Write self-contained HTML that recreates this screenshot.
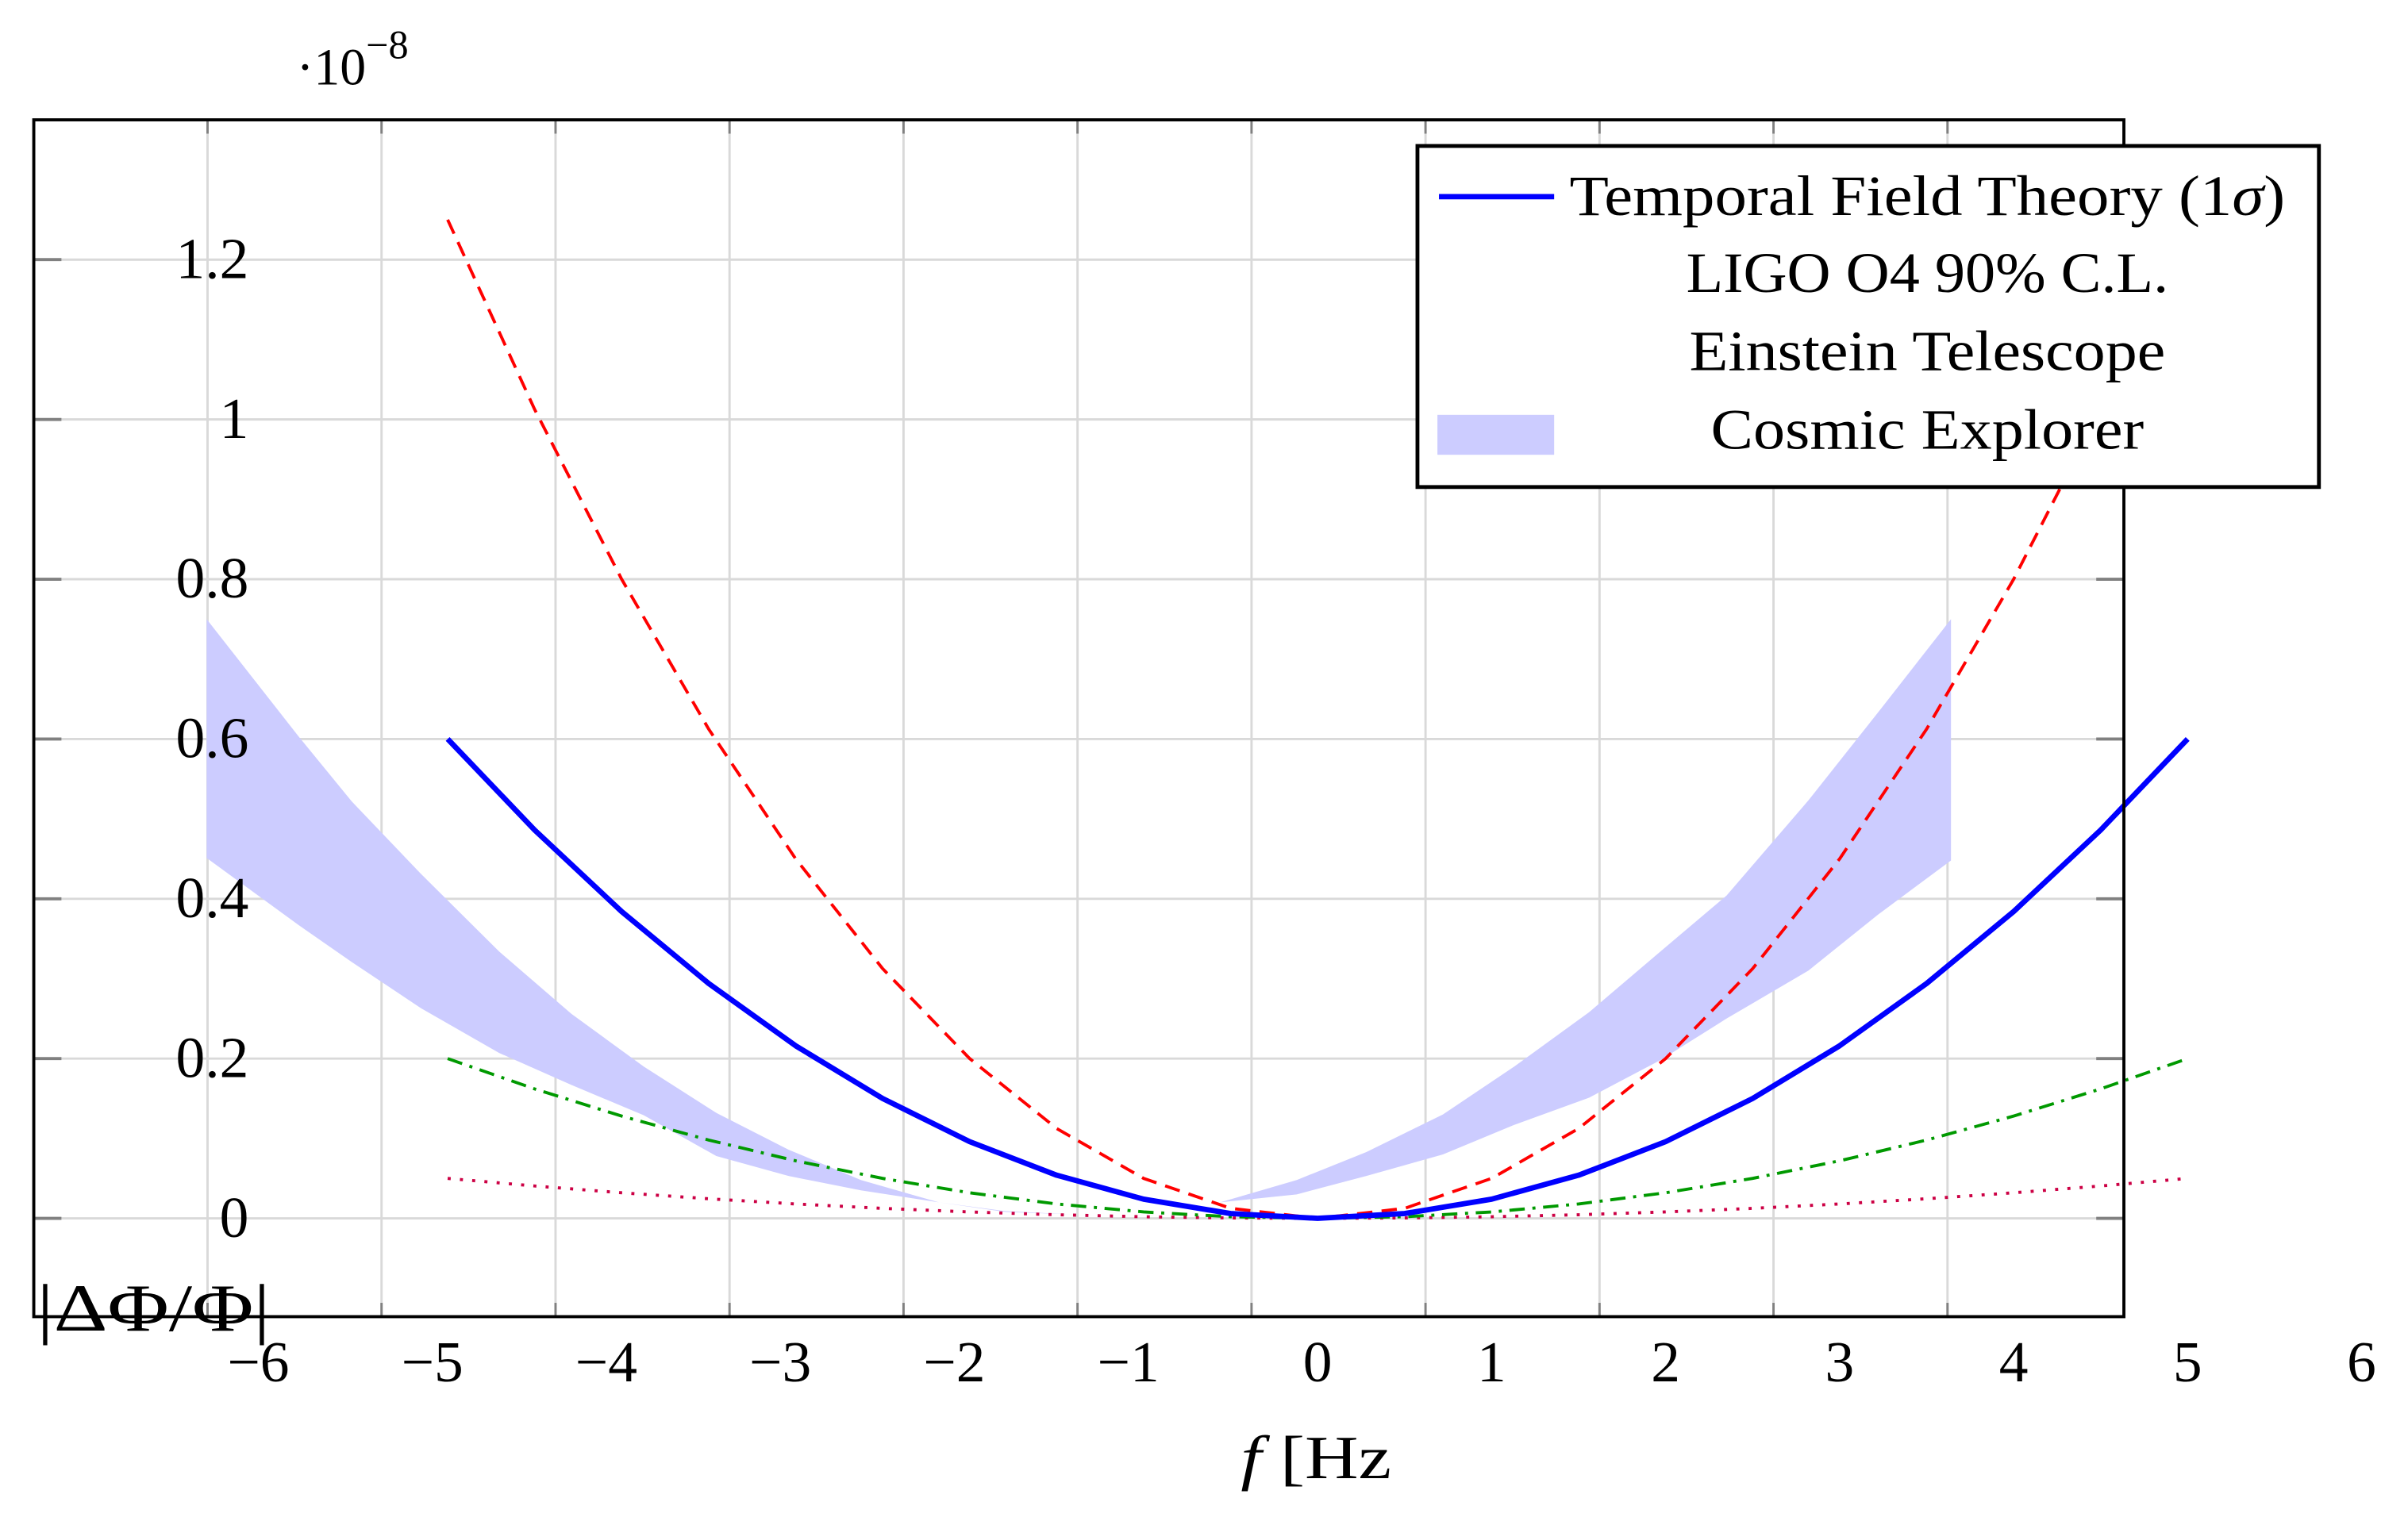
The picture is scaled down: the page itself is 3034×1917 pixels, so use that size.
<!DOCTYPE html>
<html><head><meta charset="utf-8"><style>
html,body{margin:0;padding:0;background:#fff;}
svg{display:block;}
text{font-family:"Liberation Serif",serif;fill:#000;}
</style></head><body>
<svg id="chart" width="3034" height="1917" viewBox="0 0 1568 990" preserveAspectRatio="none" xmlns="http://www.w3.org/2000/svg">
<g id="grid"></g>
<g id="bands"></g>
<g id="series"></g>
<rect x="22" y="78" width="1361" height="779" fill="none" stroke="#000" stroke-width="2"/>
<g id="ticks"></g>
<text x="193" y="55" font-size="34">·10<tspan font-size="26" dy="-17">−8</tspan></text>
<text x="24" y="866" font-size="44" textLength="152" lengthAdjust="spacingAndGlyphs">|ΔΦ/Φ|</text>
<text x="808" y="962" font-size="40" textLength="98" lengthAdjust="spacingAndGlyphs"><tspan font-style="italic">f</tspan> [Hz</text>
<g>
<rect x="923" y="95" width="587" height="222" fill="#fff" stroke="#000" stroke-width="2.5"/>
<line x1="937" y1="128" x2="1012" y2="128" stroke="#0000ff" stroke-width="3.5"/>
<text x="1255" y="140" font-size="37" text-anchor="middle" textLength="466" lengthAdjust="spacingAndGlyphs">Temporal Field Theory (1<tspan font-style="italic">σ</tspan>)</text>
<text x="1255" y="190" font-size="37" text-anchor="middle" textLength="314" lengthAdjust="spacingAndGlyphs">LIGO O4 90% C.L.</text>
<text x="1255" y="241" font-size="37" text-anchor="middle" textLength="310" lengthAdjust="spacingAndGlyphs">Einstein Telescope</text>
<rect x="936" y="270" width="76" height="26" fill="#ccccff"/>
<text x="1255" y="292" font-size="37" text-anchor="middle" textLength="282" lengthAdjust="spacingAndGlyphs">Cosmic Explorer</text>
</g>
</svg>
<script>
const xTicks = [-6,-5,-4,-3,-2,-1,0,1,2,3,4,5,6];
const xTickLabels = ["−6","−5","−4","−3","−2","−1","0","1","2","3","4","5","6"];
const yTicks = [0,0.2,0.4,0.6,0.8,1,1.2];
const yTickLabels = ["0","0.2","0.4","0.6","0.8","1","1.2"];
const xGrid = [-6.38,-5.38,-4.38,-3.38,-2.38,-1.38,-0.38,0.62,1.62,2.62,3.62];
const fVals = [-5,-4.5,-4,-3.5,-3,-2.5,-2,-1.5,-1,-0.5,0,0.5,1,1.5,2,2.5,3,3.5,4,4.5,5];
const tftVals = [0.6,0.486,0.384,0.294,0.216,0.15,0.096,0.054,0.024,0.006,0,0.006,0.024,0.054,0.096,0.15,0.216,0.294,0.384,0.486,0.6];
const ligoVals = [1.25,1.0125,0.8,0.6125,0.45,0.3125,0.2,0.1125,0.05,0.0125,0,0.0125,0.05,0.1125,0.2,0.3125,0.45,0.6125,0.8,1.0125,1.25];
const etVals = [0.2,0.162,0.128,0.098,0.072,0.05,0.032,0.018,0.008,0.002,0,0.002,0.008,0.018,0.032,0.05,0.072,0.098,0.128,0.162,0.2];
const ceVals = [0.05,0.0405,0.032,0.0245,0.018,0.0125,0.008,0.0045,0.002,0.0005,0,0.0005,0.002,0.0045,0.008,0.0125,0.018,0.0245,0.032,0.0405,0.05];
const bandLeftF = [-6.385,-5.856,-5.552,-5.153,-4.704,-4.289,-3.873,-3.456,-3.041,-2.625,-2.177,-1.793,-1.415];
const bandLeftUpper = [0.75,0.603,0.522,0.431,0.334,0.256,0.19,0.132,0.086,0.048,0.02,0.008,0.005];
const bandLeftLower = [0.451,0.367,0.321,0.263,0.207,0.167,0.129,0.078,0.053,0.035,0.02,0.009,0.005];
const bandRightF = [-0.56,-0.12,0.28,0.72,1.13,1.56,1.97,2.35,2.82,3.22,3.64];
const bandRightUpper = [0.02,0.048,0.083,0.13,0.19,0.258,0.334,0.404,0.523,0.633,0.75];
const bandRightLower = [0.02,0.03,0.053,0.08,0.117,0.151,0.198,0.25,0.31,0.38,0.448];

const NS = "http://www.w3.org/2000/svg";
const X = f => 858 + 113.3 * f;
const Y = v => 793 - 520 * v;
function mk(tag, attrs, parent){const e=document.createElementNS(NS,tag);for(const k in attrs)e.setAttribute(k,attrs[k]);parent.appendChild(e);return e;}
const grid=document.getElementById('grid'), ticks=document.getElementById('ticks'), bands=document.getElementById('bands'), series=document.getElementById('series');

xGrid.forEach(g=>{
  const l=mk('line',{x1:X(g),x2:X(g),y1:78,y2:857,stroke:'#d9d9d9','stroke-width':1.5},grid);
  
  
  const t1=mk('line',{x1:X(g),x2:X(g),y1:848,y2:857,stroke:'#808080','stroke-width':1.5},grid);
  
  
  const t2=mk('line',{x1:X(g),x2:X(g),y1:78,y2:87,stroke:'#808080','stroke-width':1.5},grid);
  
  
});
yTicks.forEach((v,i)=>{
  const l=mk('line',{x1:22,x2:1383,y1:Y(v),y2:Y(v),stroke:'#d9d9d9','stroke-width':1.5},grid);
  
  
  const t1=mk('line',{x1:22,x2:40,y1:Y(v),y2:Y(v),stroke:'#808080','stroke-width':2},grid);
  
  
  const t2=mk('line',{x1:1365,x2:1383,y1:Y(v),y2:Y(v),stroke:'#808080','stroke-width':2},grid);
  
  
  const t=mk('text',{x:162,y:Y(v)+12,'font-size':38,'text-anchor':'end'},ticks);
  t.textContent=yTickLabels[i];
  
  
});
xTicks.forEach((f,i)=>{
  const t=mk('text',{x:X(f)+(f<0?-10:0),y:899,'font-size':38,'text-anchor':'middle'},ticks);
  t.textContent=xTickLabels[i];
  
  
});

function band(fs,up,lo,name){
  let d='M'+fs.map((f,i)=>X(f)+','+Y(up[i])).join(' L');
  for(let i=fs.length-1;i>=0;i--) d+=' L'+X(fs[i])+','+Y(lo[i]);
  const p=mk('path',{d:d+'Z',fill:'#ccccff',stroke:'none'},bands);
  
  
}
band(bandLeftF,bandLeftUpper,bandLeftLower,'ce-band-left');
band(bandRightF,bandRightUpper,bandRightLower,'ce-band-right');

function line(vals,attrs,name){
  const pts=fVals.map((f,i)=>X(f)+','+Y(vals[i])).join(' ');
  const p=mk('polyline',Object.assign({points:pts,fill:'none'},attrs),series);
  
  
}
line(ceVals,{stroke:'#cc0044','stroke-width':2,'stroke-dasharray':'2 6'},'ce-sensitivity-line');
line(etVals,{stroke:'#009900','stroke-width':2,'stroke-dasharray':'10 5 2 5'},'et-sensitivity-line');
line(ligoVals,{stroke:'#ff0000','stroke-width':2,'stroke-dasharray':'10 6'},'ligo-bound-line');
line(tftVals,{stroke:'#0000ff','stroke-width':3.5,'stroke-linejoin':'round'},'tft-line');
</script>
</body></html>
